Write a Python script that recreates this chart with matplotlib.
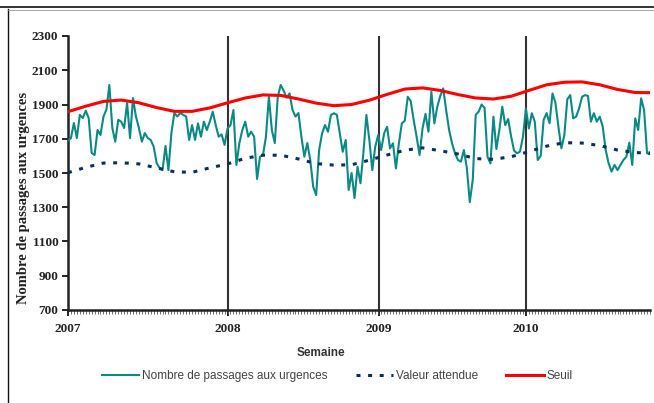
import matplotlib.pyplot as plt
from matplotlib.lines import Line2D
import numpy as np

# weekly counts
passages = [
    # 2007 (first half)
    1689, 1704, 1792, 1704, 1839, 1821, 1864, 1821, 1617, 1605, 1751, 1722, 1829, 1870,
    2014, 1763, 1683, 1810, 1800, 1763, 1909, 1704, 1938, 1829, 1763, 1683, 1733, 1704,
    # 2007 (second half)
    1693, 1654, 1558, 1529, 1517, 1658, 1517, 1733, 1850, 1830, 1850, 1840, 1830, 1693,
    1780, 1693, 1790, 1712, 1800, 1751, 1800, 1858, 1780, 1712, 1725, 1664, 1760, 1780,
    # 2008
    1868, 1547, 1673, 1751, 1800, 1712, 1741, 1712, 1465, 1595, 1605, 1712, 1945, 1751,
    1675, 1945, 2014, 1980, 1940, 1965, 1868, 1830, 1850, 1712, 1595, 1675, 1575, 1420, 1371,
    1634, 1731, 1780, 1741, 1839, 1849, 1840, 1731, 1624, 1693, 1401, 1500, 1354, 1537,
    1440, 1620, 1839, 1693, 1517, 1654, 1722, 1634, 1731, 1770, 1644, 1673, 1527, 1673, 1790,
    # 2009
    1805, 1945, 1920, 1810, 1712, 1605, 1760, 1845, 1741, 1975, 1790, 1887, 1950, 1994,
    1868, 1751, 1673, 1615, 1576, 1566, 1634, 1530, 1330, 1459, 1839, 1858, 1900, 1880, 1595,
    1556, 1829, 1640, 1750, 1887, 1780, 1815, 1712, 1630, 1615, 1625, 1712, 1877, 1760,
    1849, 1800, 1576, 1600, 1810, 1850, 1790, 1965, 1910, 1770, 1644, 1720, 1930, 1955,
    # 2010
    1819, 1829, 1877, 1945, 1955, 1950, 1800, 1849, 1800, 1829, 1770, 1634, 1556, 1508,
    1547, 1517, 1547, 1576, 1595, 1677, 1547, 1819, 1751, 1936, 1868, 1615, 1610,
]

# smooth curves, read every 6 weeks
ref_weeks = [0, 6, 12, 18, 24, 30, 36, 42, 48, 54, 60, 66, 72, 78, 84, 90, 96,
             102, 108, 114, 120, 126, 132, 138, 144, 150, 156, 162, 168, 174, 180,
             186, 192, 197]
attendue = [1502, 1533, 1558, 1560, 1553, 1530, 1507, 1504, 1530, 1553, 1586, 1604,
            1604, 1582, 1555, 1546, 1548, 1575, 1605, 1633, 1647, 1630, 1611, 1584,
            1580, 1595, 1625, 1657, 1677, 1675, 1660, 1634, 1619, 1617]
seuil = [1858, 1890, 1918, 1926, 1910, 1882, 1860, 1860, 1880, 1910, 1938, 1956,
         1953, 1932, 1908, 1893, 1900, 1925, 1959, 1990, 1997, 1982, 1958, 1938,
         1932, 1948, 1982, 2015, 2030, 2032, 2015, 1988, 1970, 1969]

years = ["2007", "2008", "2009", "2010"]
year_weeks = [0, 54.2, 105.3, 155.0]

teal = "#0b8a85"
navy = "#0b2f5e"
red = "#ff0000"
serif = "Liberation Serif"
sans = "Liberation Sans"

fig = plt.figure(figsize=(6.54, 4.03), dpi=100)
ax = fig.add_axes([68 / 654, 1 - 310 / 403, 582 / 654, 274 / 403])

weeks = np.arange(len(passages))
ax.plot(weeks, passages, color=teal, lw=1.5, label="Nombre de passages aux urgences", zorder=3)
ax.plot(ref_weeks, attendue, color=navy, lw=2.2, ls=(0, (1.3, 2.5)),
        dash_capstyle="butt", label="Valeur attendue", zorder=3)
ax.plot(ref_weeks, seuil, color=red, lw=2.2, label="Seuil", zorder=3)

for yw in year_weeks[1:]:
    ax.axvline(yw, color="#333333", lw=1.5, zorder=2)

ax.set_xlim(0, len(passages) - 1)
ax.set_ylim(700, 2300)
ax.set_yticks(range(700, 2301, 200))
ax.set_xticks(year_weeks)
ax.set_xticklabels(years)
ax.set_xticks(weeks, minor=True)

for s in ["top", "right"]:
    ax.spines[s].set_visible(False)
for s in ["left", "bottom"]:
    ax.spines[s].set_linewidth(1.8)
    ax.spines[s].set_color("#222222")

ax.tick_params(axis="y", length=4, width=1.2, pad=3, labelsize=9.5)
ax.tick_params(axis="x", which="major", length=4, width=1.2, pad=5, labelsize=9.5)
ax.tick_params(axis="x", which="minor", length=3, width=0.6, color="#555555")
for lab in ax.get_yticklabels() + ax.get_xticklabels():
    lab.set_fontfamily(serif)
    lab.set_fontweight("bold")
    lab.set_color("#222222")

ax.set_ylabel("Nombre de passages aux urgences", fontfamily=serif, fontweight="bold",
              fontsize=10.5, color="#222222")
ax.yaxis.set_label_coords(-0.066, 0.41)
fig.text(321 / 654, 1 - 353 / 403, "Semaine", ha="center", va="center",
         fontfamily=sans, fontweight="bold", fontsize=8.5, color="#333333")

leg = fig.legend(loc="center", bbox_to_anchor=(337 / 654, 1 - 376 / 403), ncol=3,
                 frameon=False, handlelength=3.2, handletextpad=0.2, columnspacing=2.4,
                 prop={"family": sans, "size": 8.5})
for t in leg.get_texts():
    t.set_color("#444444")

# outer frame pieces
fig.add_artist(Line2D([0, 1], [1 - 7 / 403, 1 - 7 / 403], color="#111111", lw=1.2))
fig.add_artist(Line2D([8 / 654, 8 / 654], [0, 1 - 9 / 403], color="#111111", lw=1.0))
fig.add_artist(Line2D([8 / 654, 1], [1 - 9.5 / 403, 1 - 9.5 / 403], color="#999999", lw=0.6))

fig.savefig("out.png", dpi=100)
